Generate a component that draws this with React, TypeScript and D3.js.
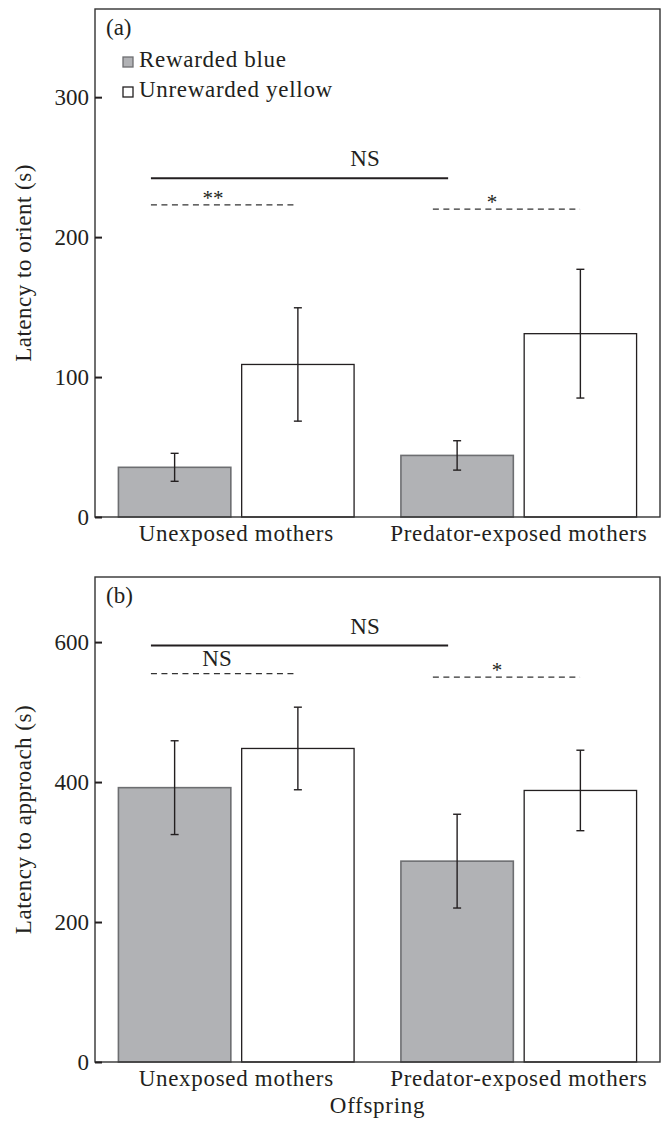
import { useEffect, useRef } from 'react';
import * as d3 from 'd3';

const groups = ['Unexposed mothers', 'Predator-exposed mothers'];
const seriesNames = ['Rewarded blue', 'Unrewarded yellow'];

const orientRewarded = [35.5, 44];
const orientRewardedErr = [10, 10.5];
const orientUnrewarded = [109, 131];
const orientUnrewardedErr = [40.5, 46];

const approachRewarded = [392, 287];
const approachRewardedErr = [67, 67];
const approachUnrewarded = [448, 388];
const approachUnrewardedErr = [59, 57.5];

const orientTicks = [0, 100, 200, 300];
const approachTicks = [0, 200, 400, 600];

// brackets: x in group units (0..2), y in data units
const orientBrackets = [
  { x0: 0.198, x1: 1.25, y: 242, label: 'NS', lx: 0.956, dashed: false },
  { x0: 0.198, x1: 0.715, y: 223, label: '**', lx: 0.418, dashed: true },
  { x0: 1.196, x1: 1.717, y: 220, label: '*', lx: 1.405, dashed: true },
];
const approachBrackets = [
  { x0: 0.198, x1: 1.25, y: 595, label: 'NS', lx: 0.956, dashed: false },
  { x0: 0.198, x1: 0.715, y: 555, label: 'NS', lx: 0.432, dashed: true },
  { x0: 1.196, x1: 1.717, y: 550, label: '*', lx: 1.423, dashed: true },
];

const W = 668;
const H = 1123;
const FONT = '"Liberation Serif", "Times New Roman", serif';
const GRAY = '#b1b2b5';
const INK = '#231f20';

export default function App() {
  const svgRef = useRef(null);

  useEffect(() => {
    const svg = d3.select(svgRef.current);
    svg.selectAll('*').remove();
    svg.attr('width', W).attr('height', H).style('font-family', FONT);

    const left = 95;
    const right = 660;

    const drawPanel = (opts) => {
      const { top, bottom, yMax, ticks, rew, rewErr, unr, unrErr, brackets, tag, yLabel, showLegend } = opts;

      const x = d3.scaleBand().domain(groups).range([left, right]).padding(0);
      const xu = d3.scaleLinear().domain([0, 2]).range([left, right]);
      const inner = d3.scaleBand().domain(seriesNames).range([0, x.bandwidth()]).paddingInner(0.088).paddingOuter(0.19);
      const y = d3.scaleLinear().domain([0, yMax]).range([bottom, top]);

      const g = svg.append('g');

      const rows = groups.flatMap((grp, i) => [
        { grp, s: seriesNames[0], v: rew[i], e: rewErr[i] },
        { grp, s: seriesNames[1], v: unr[i], e: unrErr[i] },
      ]);

      // bars
      g.selectAll('rect.bar')
        .data(rows)
        .join('rect')
        .attr('x', d => x(d.grp) + inner(d.s))
        .attr('y', d => y(d.v))
        .attr('width', inner.bandwidth())
        .attr('height', d => y(0) - y(d.v))
        .attr('fill', d => (d.s === seriesNames[0] ? GRAY : '#fff'))
        .attr('stroke', d => (d.s === seriesNames[0] ? '#6d6e71' : INK))
        .attr('stroke-width', d => (d.s === seriesNames[0] ? 1.6 : 1.3));

      // error bars
      const cx = d => x(d.grp) + inner(d.s) + inner.bandwidth() / 2;
      const eb = g.selectAll('g.err').data(rows).join('g');
      eb.append('line')
        .attr('x1', cx).attr('x2', cx)
        .attr('y1', d => y(d.v + d.e)).attr('y2', d => y(d.v - d.e));
      eb.append('line')
        .attr('x1', d => cx(d) - 4).attr('x2', d => cx(d) + 4)
        .attr('y1', d => y(d.v + d.e)).attr('y2', d => y(d.v + d.e));
      eb.append('line')
        .attr('x1', d => cx(d) - 4).attr('x2', d => cx(d) + 4)
        .attr('y1', d => y(d.v - d.e)).attr('y2', d => y(d.v - d.e));
      eb.selectAll('line').attr('stroke', INK).attr('stroke-width', 1.4);

      // frame
      g.append('rect')
        .attr('x', left).attr('y', top)
        .attr('width', right - left).attr('height', bottom - top)
        .attr('fill', 'none').attr('stroke', '#333').attr('stroke-width', 1.4);

      // y axis with inward ticks
      const ax = g.append('g')
        .attr('transform', `translate(${left},0)`)
        .call(d3.axisLeft(y).tickValues(ticks).tickSizeInner(-7).tickSizeOuter(0).tickPadding(6));
      ax.select('.domain').remove();
      ax.selectAll('line').attr('stroke', INK).attr('stroke-width', 2);
      ax.selectAll('text')
        .attr('fill', INK)
        .attr('font-size', 23)
        .attr('font-family', FONT);

      // category labels
      g.selectAll('text.cat')
        .data(groups)
        .join('text')
        .attr('x', d => x(d) + x.bandwidth() / 2)
        .attr('y', bottom + 24)
        .attr('text-anchor', 'middle')
        .attr('font-size', 23)
        .attr('letter-spacing', 0.7)
        .attr('fill', INK)
        .text(d => d);

      // y label
      g.append('text')
        .attr('transform', `translate(31,${(top + bottom) / 2}) rotate(-90)`)
        .attr('text-anchor', 'middle')
        .attr('font-size', 23)
        .attr('letter-spacing', 0.5)
        .attr('fill', INK)
        .text(yLabel);

      // panel tag
      g.append('text')
        .attr('x', left + 11).attr('y', top + 26)
        .attr('font-size', 23)
        .attr('fill', INK)
        .text(tag);

      // brackets
      brackets.forEach(b => {
        g.append('line')
          .attr('x1', xu(b.x0)).attr('x2', xu(b.x1))
          .attr('y1', y(b.y)).attr('y2', y(b.y))
          .attr('stroke', b.dashed ? '#333' : INK)
          .attr('stroke-width', b.dashed ? 1.2 : 2)
          .attr('stroke-dasharray', b.dashed ? '6,4.5' : null);
        const isStar = b.label.startsWith('*');
        const gap = isStar ? 0 : b.dashed ? 8 : 12;
        g.append('text')
          .attr('x', xu(b.lx))
          .attr('y', y(b.y) - gap)
          .attr('text-anchor', 'middle')
          .attr('font-size', isStar ? 21 : 23)
          .attr('fill', INK)
          .text(b.label);
      });

      if (showLegend) {
        const lg = g.append('g');
        seriesNames.forEach((s, i) => {
          const ly = top + 58 + i * 30;
          lg.append('rect')
            .attr('x', left + 28).attr('y', ly - 10)
            .attr('width', 10).attr('height', 10)
            .attr('fill', i === 0 ? GRAY : '#fff')
            .attr('stroke', i === 0 ? '#6d6e71' : INK)
            .attr('stroke-width', 1.3);
          lg.append('text')
            .attr('x', left + 44).attr('y', ly)
            .attr('font-size', 23)
            .attr('letter-spacing', 0.7)
            .attr('fill', INK)
            .text(s);
        });
      }
    };

    drawPanel({
      top: 9, bottom: 517, yMax: 363, ticks: orientTicks,
      rew: orientRewarded, rewErr: orientRewardedErr,
      unr: orientUnrewarded, unrErr: orientUnrewardedErr,
      brackets: orientBrackets, tag: '(a)', yLabel: 'Latency to orient (s)', showLegend: true,
    });

    drawPanel({
      top: 577, bottom: 1062, yMax: 693, ticks: approachTicks,
      rew: approachRewarded, rewErr: approachRewardedErr,
      unr: approachUnrewarded, unrErr: approachUnrewardedErr,
      brackets: approachBrackets, tag: '(b)', yLabel: 'Latency to approach (s)', showLegend: false,
    });

    svg.append('text')
      .attr('x', (left + right) / 2)
      .attr('y', 1113)
      .attr('text-anchor', 'middle')
      .attr('font-size', 23)
      .attr('letter-spacing', 0.7)
      .attr('fill', INK)
      .text('Offspring');
  }, []);

  return (
    <div style={{ background: '#fff' }}>
      <style>{'body{margin:0}'}</style>
      <svg ref={svgRef} style={{ display: 'block' }} />
    </div>
  );
}
